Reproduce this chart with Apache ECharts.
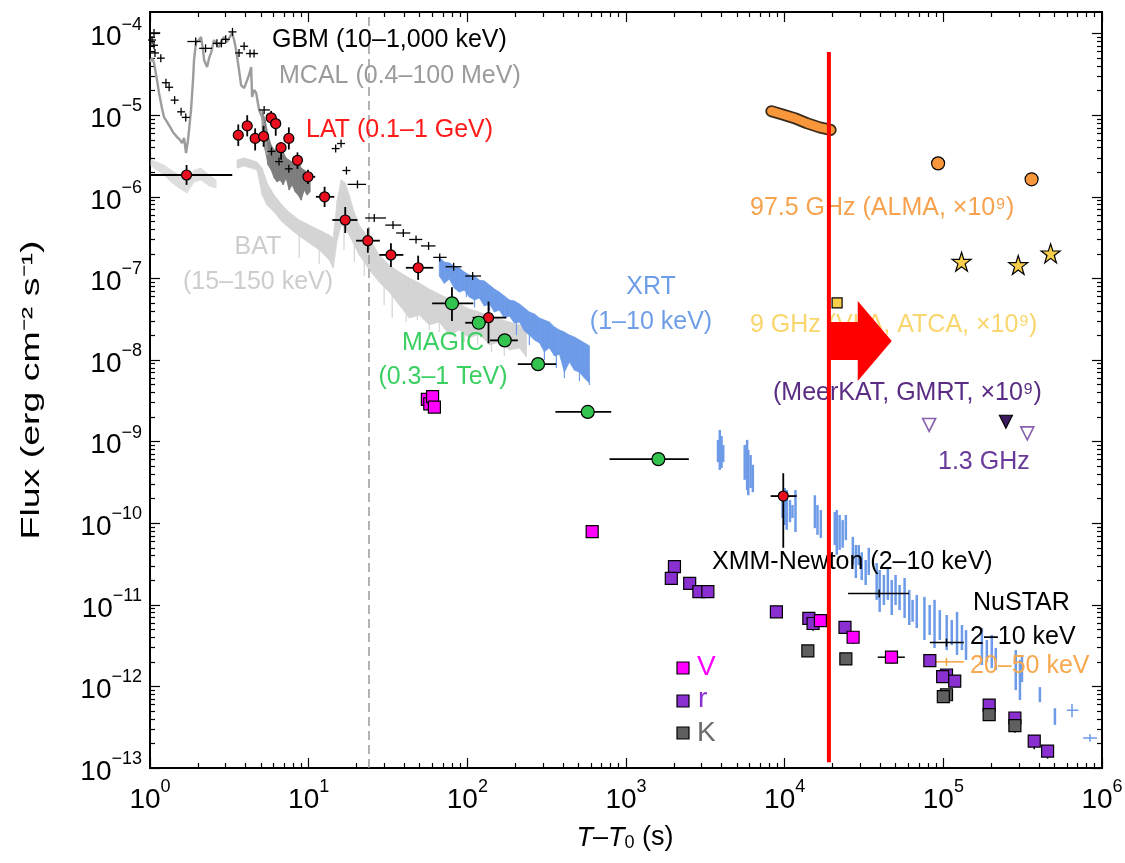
<!DOCTYPE html>
<html>
<head>
<meta charset="utf-8">
<script src="https://cdn.jsdelivr.net/npm/echarts@6/dist/echarts.min.js"></script>
<style>
html, body { margin: 0; padding: 0; background: #fff; }
#chart { width: 1125px; height: 863px; }
</style>
</head>
<body>
<div id="chart"></div>
<script>
var FONT = '"Liberation Sans", Arial, Helvetica, sans-serif';

// axis ranges
var T_MIN = 1, T_MAX = 1e6;
var F_MIN = 1e-13, F_MAX = 1.84e-4;

// GBM (10-1,000 keV): [t, tLo, tHi, flux]
var gbm = [
  [1.06, 1.0, 1.16, 1.02e-4], [1.03, 1.03, 1.03, 8.35e-5], [1.06, 1.06, 1.06, 7.2e-5],
  [1.075, 1.075, 1.075, 5.8e-5], [1.17, 1.17, 1.17, 5.0e-5], [1.26, 1.22, 1.30, 2.5e-5],
  [1.32, 1.30, 1.35, 2.2e-5], [1.43, 1.38, 1.48, 1.53e-5], [1.57, 1.52, 1.62, 1.1e-5],
  [1.68, 1.68, 1.68, 9.4e-6], [1.94, 1.72, 2.09, 8.0e-5], [2.24, 2.04, 2.46, 6.6e-5],
  [2.64, 2.64, 2.64, 7.6e-5], [2.82, 2.82, 2.82, 7.6e-5], [3.0, 2.92, 3.08, 8.5e-5],
  [3.31, 3.2, 3.42, 1.05e-4], [3.64, 3.55, 3.73, 5.8e-5], [3.92, 3.92, 3.92, 7.0e-5],
  [4.27, 4.27, 4.27, 5.7e-5], [4.53, 4.53, 4.53, 5.7e-5], [5.24, 4.87, 5.7, 1.16e-5],
  [5.83, 5.6, 6.1, 3.6e-6], [6.5, 6.5, 6.5, 2.7e-6], [7.5, 7.1, 7.9, 2.2e-6],
  [14.8, 14.0, 15.4, 3.9e-6], [16.0, 15.4, 16.6, 4.5e-6], [17.3, 17.3, 17.3, 2.1e-6],
  [20.3, 17.6, 23.0, 1.42e-6], [25.9, 22.7, 30.7, 5.5e-7], [34, 30.4, 38.4, 4.5e-7],
  [39.5, 35.6, 43.7, 3.6e-7], [47.5, 43, 52, 3.0e-7], [57, 51, 63, 2.5e-7],
  [67, 61, 74, 1.81e-7], [82, 73, 92, 1.39e-7], [108, 97, 122, 1.07e-7]
];

// LAT (0.1-1 GeV): [t, tLo, tHi, flux, fLo, fHi]
var lat = [
  [1.7, 1.0, 3.3, 1.85e-6, 1.4e-6, 2.45e-6], [3.6, 3.6, 3.6, 5.7e-6, 4.2e-6, 7.7e-6],
  [4.1, 4.1, 4.1, 7.4e-6, 5.5e-6, 1.0e-5], [4.6, 4.6, 4.6, 5.2e-6, 3.7e-6, 6.9e-6],
  [5.2, 5.2, 5.2, 5.5e-6, 4.1e-6, 7.4e-6], [5.8, 5.8, 5.8, 9.3e-6, 7.6e-6, 1.13e-5],
  [6.2, 6.2, 6.2, 7.9e-6, 5.6e-6, 9.6e-6], [6.7, 6.7, 6.7, 4.0e-6, 2.85e-6, 4.7e-6],
  [7.5, 7.5, 7.5, 5.2e-6, 3.8e-6, 7.1e-6], [8.5, 8.5, 8.5, 2.8e-6, 2.2e-6, 3.5e-6],
  [9.9, 9.4, 11, 1.76e-6, 1.44e-6, 2.15e-6], [12.6, 11.1, 14.5, 1.0e-6, 7.5e-7, 1.33e-6],
  [17, 14.1, 20.3, 5.2e-7, 3.6e-7, 7.5e-7], [23.6, 19.9, 28.1, 2.9e-7, 2.06e-7, 4.1e-7],
  [33, 27.9, 39.5, 1.94e-7, 1.38e-7, 2.7e-7], [49, 41, 61, 1.35e-7, 9.6e-8, 1.9e-7],
  [136, 108, 176, 3.3e-8, 1.6e-8, 5.2e-8], [9800, 8160, 11900, 2.15e-10, 5.0e-11, 4.1e-10]
];

// MAGIC (0.3-1 TeV): [t, tLo, tHi, flux, fLo, fHi]
var magic = [
  [80, 60, 109, 4.95e-8, 3.0e-8, 7.8e-8], [118, 97, 131, 2.86e-8, 2.5e-8, 3.3e-8],
  [172, 139, 208, 1.74e-8, 1.55e-8, 1.95e-8], [279, 208, 363, 8.9e-9, 8.0e-9, 9.9e-9],
  [574, 359, 807, 2.31e-9, 2.1e-9, 2.55e-9], [1600, 787, 2490, 6.1e-10, 5.3e-10, 7.0e-10]
];

// BAT (15-150 keV) light curve envelope: [t, fLo, fHi]
var batEarly = [
  [1.015, 2.38e-6, 2.82e-6], [1.107, 2.13e-6, 2.67e-6], [1.225, 1.85e-6, 2.45e-6],
  [1.357, 1.52e-6, 2.13e-6], [1.524, 1.28e-6, 1.85e-6], [1.712, 1.11e-6, 1.61e-6],
  [1.895, 1.52e-6, 2.13e-6], [2.098, 1.61e-6, 2.25e-6], [2.357, 1.36e-6, 1.85e-6],
  [2.609, 1.28e-6, 1.61e-6]
];
var batMain = [
  [3.54, 2.25e-6, 2.82e-6], [3.92, 2.38e-6, 2.99e-6], [4.34, 2.25e-6, 2.82e-6],
  [4.73, 2.13e-6, 2.67e-6], [5.09, 1.05e-6, 2.25e-6], [5.47, 7.9e-7, 1.48e-6],
  [6.06, 6.5e-7, 1.05e-6], [6.81, 4.91e-7, 7.9e-7], [7.53, 4.15e-7, 6.5e-7],
  [8.71, 3.31e-7, 5.2e-7], [10.07, 2.72e-7, 4.51e-7], [11.65, 2.23e-7, 3.92e-7],
  [13.47, 1.68e-7, 3.4e-7], [14.28, 1.34e-7, 3.13e-7], [15.13, 2.96e-7, 9.1e-7],
  [16.03, 4.51e-7, 1.61e-6], [16.99, 4.15e-7, 1.48e-6], [18.01, 3.4e-7, 1.05e-6],
  [19.37, 2.57e-7, 6.5e-7], [20.83, 1.94e-7, 4.51e-7], [22.4, 1.59e-7, 3.7e-7],
  [24.08, 1.27e-7, 3.13e-7], [27.86, 9.0e-8, 1.94e-7], [32.2, 6.8e-8, 1.46e-7],
  [37.24, 4.72e-8, 1.2e-7], [43.07, 3.27e-8, 1.01e-7], [49.8, 3.56e-8, 8.8e-8],
  [57.6, 2.69e-8, 7.4e-8], [66.6, 2.92e-8, 6.4e-8], [77.0, 2.02e-8, 5.6e-8],
  [89.0, 2.33e-8, 4.86e-8], [103, 1.86e-8, 4.22e-8], [119, 2.08e-8, 3.87e-8],
  [138, 1.53e-8, 3.46e-8], [159, 1.66e-8, 3.18e-8], [184, 1.33e-8, 2.92e-8],
  [213, 1.4e-8, 2.69e-8], [236, 1.09e-8, 2.33e-8]
];
// BAT downward noise spikes: [t, fLo, fHi]
var batSpikes = [
  [8.71, 1.78e-7, 3.92e-7], [11.65, 1.5e-7, 2.96e-7], [16.7, 2.23e-7, 4.51e-7],
  [19.4, 1.59e-7, 2.96e-7], [22.4, 1.07e-7, 1.94e-7], [29.9, 4.72e-8, 8.3e-8],
  [33.6, 3.27e-8, 7.2e-8], [41.2, 2.92e-8, 5.44e-8], [48.4, 3.09e-8, 4.1e-8],
  [57.6, 2.33e-8, 3.56e-8], [66.6, 2.2e-8, 3.56e-8], [80.4, 2.02e-8, 3.09e-8],
  [95.7, 1.66e-8, 2.69e-8], [116, 1.53e-8, 2.33e-8], [142, 1.26e-8, 2.02e-8],
  [171, 1.12e-8, 1.76e-8]
];

// MCAL (0.4-100 MeV): [t, flux]
var mcalCurve = [
  [1.0, 4.5e-5], [1.03, 5.0e-5], [1.06, 4.4e-5], [1.107, 2.7e-5], [1.14, 1.87e-5],
  [1.19, 1.22e-5], [1.225, 9.5e-6], [1.28, 8.3e-6], [1.337, 7.2e-6], [1.397, 6.2e-6],
  [1.48, 5.4e-6], [1.546, 5.0e-6], [1.592, 4.56e-6], [1.639, 5.26e-6], [1.687, 3.44e-6],
  [1.737, 5.0e-6], [1.814, 1.16e-5], [1.867, 2.7e-5], [1.895, 4.75e-5], [1.951, 7.9e-5],
  [2.038, 8.35e-5], [2.098, 9.1e-5], [2.16, 6.3e-5], [2.192, 4.75e-5], [2.289, 3.9e-5],
  [2.357, 5.0e-5], [2.426, 5.8e-5], [2.533, 8.35e-5], [2.647, 7.2e-5], [2.725, 6.85e-5],
  [2.847, 8.35e-5], [2.931, 9.1e-5], [3.06, 7.9e-5], [3.15, 8.35e-5], [3.29, 1.02e-4],
  [3.39, 8.35e-5], [3.49, 6.3e-5], [3.64, 3.58e-5], [3.75, 2.34e-5], [3.92, 2.15e-5],
  [4.03, 2.04e-5], [4.21, 3.11e-5], [4.34, 3.9e-5], [4.40, 1.67e-5], [4.53, 2.04e-5],
  [4.67, 1.87e-5], [4.87, 1.16e-5], [5.09, 9.5e-6], [5.32, 5.7e-6], [5.47, 3.25e-6]
];
// MCAL later, darker envelope: [t, fLo, fHi]
var mcalBand = [
  [5.09, 6.6e-6, 1.16e-5], [5.32, 3.75e-6, 8.7e-6], [5.55, 2.45e-6, 5.7e-6],
  [5.80, 2.13e-6, 4.32e-6], [6.06, 1.70e-6, 3.75e-6], [6.33, 1.52e-6, 3.96e-6],
  [6.61, 1.61e-6, 3.25e-6], [6.91, 1.40e-6, 3.54e-6], [7.21, 1.70e-6, 2.99e-6],
  [7.53, 1.21e-6, 2.82e-6], [7.87, 1.40e-6, 2.67e-6], [8.22, 1.15e-6, 2.45e-6],
  [8.59, 1.05e-6, 2.82e-6], [8.97, 9.1e-7, 2.25e-6], [9.37, 1.21e-6, 2.13e-6],
  [9.78, 1.05e-6, 2.01e-6], [10.22, 1.15e-6, 1.85e-6]
];

// XRT (1-10 keV): early dense envelope [t, fLo, fHi]
var xrtBand = [
  [66.6, 1.07e-7, 1.83e-7], [71.6, 8.7e-8, 1.59e-7], [77.0, 9.8e-8, 1.55e-7],
  [82.8, 7.6e-8, 1.42e-7], [89.0, 6.8e-8, 1.34e-7], [95.7, 7.2e-8, 1.20e-7],
  [103, 5.9e-8, 1.10e-7], [111, 5.44e-8, 1.07e-7], [119, 5.76e-8, 9.55e-8],
  [128, 4.6e-8, 9.3e-8], [138, 4.86e-8, 8.3e-8], [148, 3.88e-8, 7.42e-8],
  [159, 4.1e-8, 6.8e-8], [171, 3.27e-8, 6.1e-8], [184, 3.46e-8, 5.44e-8],
  [198, 2.85e-8, 5.29e-8], [213, 2.92e-8, 4.86e-8], [229, 2.27e-8, 4.34e-8],
  [246, 2.02e-8, 3.88e-8], [265, 1.76e-8, 3.66e-8], [285, 1.62e-8, 3.27e-8],
  [306, 1.26e-8, 3.09e-8], [329, 1.41e-8, 2.92e-8], [354, 1.12e-8, 2.54e-8],
  [381, 1.18e-8, 2.33e-8], [409, 7.1e-9, 2.2e-8], [440, 9.45e-9, 2.02e-8],
  [473, 7.5e-9, 1.91e-8], [509, 7.1e-9, 1.76e-8], [547, 6.0e-9, 1.62e-8],
  [588, 5.24e-9, 1.49e-8]
];
// XRT early noise spikes: [t, fLo, fHi]
var xrtSpikes = [
  [98.6, 5.9e-8, 8.0e-8], [111, 4.4e-8, 6.5e-8], [138, 4.0e-8, 5.5e-8],
  [204, 2.02e-8, 3.2e-8], [246, 1.53e-8, 2.3e-8], [306, 1.0e-8, 1.5e-8],
  [364, 7.98e-9, 1.3e-8], [409, 6.0e-9, 9.0e-9], [509, 5.5e-9, 8.0e-9],
  [588, 4.94e-9, 6.5e-9]
];
// XRT later orbits: [t, fLo, fHi]
var xrtLate = [
  [3.8e3, 5.6e-10, 1.05e-9], [3.9e3, 4.5e-10, 1.39e-9], [4.0e3, 4.75e-10, 1.17e-9], [4.1e3, 5.6e-10, 9.1e-10],
  [5.6e3, 3.4e-10, 9.1e-10], [5.8e3, 2.55e-10, 1.05e-9], [5.9e3, 2.2e-10, 7.9e-10], [6.1e3, 2.7e-10, 6.85e-10], [6.3e3, 2.4e-10, 5.2e-10],
  [9.7e3, 1.16e-10, 2.2e-10], [1.0e4, 9.5e-11, 2.7e-10], [1.03e4, 8.3e-11, 2.55e-10], [1.08e4, 1.03e-10, 1.92e-10], [1.12e4, 1.16e-10, 1.67e-10], [1.17e4, 7.8e-11, 2.55e-10],
  [1.55e4, 8.7e-11, 2.2e-10], [1.61e4, 7.2e-11, 1.67e-10], [1.69e4, 6.6e-11, 1.45e-10],
  [2.07e4, 5.4e-11, 1.37e-10], [2.13e4, 4.1e-11, 1.45e-10], [2.22e4, 4.7e-11, 1.26e-10], [2.32e4, 5.0e-11, 1.09e-10], [2.43e4, 6.2e-11, 1.26e-10],
  [2.69e4, 3.07e-11, 6.8e-11], [2.81e4, 2.13e-11, 5.4e-11], [2.93e4, 3.07e-11, 5.4e-11], [3.06e4, 2.01e-11, 4.4e-11], [3.24e4, 1.75e-11, 3.54e-11], [3.39e4, 2.32e-11, 5.0e-11],
  [3.8e4, 1.15e-11, 3.25e-11], [3.97e4, 8.2e-12, 2.67e-11], [4.22e4, 9.95e-12, 2.32e-11], [4.47e4, 1.15e-11, 2.82e-11],
  [4.73e4, 7.5e-12, 2.01e-11], [5.0e4, 9.95e-12, 2.32e-11], [5.3e4, 8.6e-12, 1.75e-11], [5.7e4, 6.9e-12, 2.13e-11],
  [6.1e4, 5.65e-12, 1.52e-11], [6.4e4, 6.2e-12, 1.15e-11], [6.8e4, 5.2e-12, 1.32e-11],
  [7.6e4, 3.7e-12, 1.25e-11], [8.2e4, 4.27e-12, 9.95e-12], [8.8e4, 2.96e-12, 1.15e-11], [9.5e4, 3.7e-12, 8.6e-12],
  [1.05e5, 2.79e-12, 7.5e-12], [1.13e5, 3.2e-12, 6.5e-12], [1.22e5, 2.43e-12, 8.2e-12], [1.31e5, 2.79e-12, 5.65e-12], [1.39e5, 2.11e-12, 4.9e-12],
  [1.75e5, 1.83e-12, 5.2e-12], [1.88e5, 1.99e-12, 3.7e-12], [2.02e5, 1.68e-12, 4.27e-12], [2.14e5, 1.59e-12, 2.96e-12],
  [2.86e5, 9.0e-13, 2.79e-12], [3.04e5, 6.8e-13, 2.11e-12], [3.13e5, 1.13e-12, 2.43e-12],
  [4.06e5, 6.4e-13, 9.8e-13], [5.05e5, 3.37e-13, 5.4e-13]
];
// XRT last binned points: [t, tLo, tHi, flux, fLo, fHi]
var xrtLateCross = [
  [6.47e5, 6.0e5, 7.1e5, 5.1e-13, 4.2e-13, 6.1e-13],
  [8.4e5, 7.6e5, 9.3e5, 2.33e-13, 2.1e-13, 2.6e-13]
];

// XMM-Newton and NuSTAR: [t, tLo, tHi, flux]
var xmm = [[3.94e4, 2.51e4, 6.08e4, 1.38e-11]];
var nustarSoft = [[1.047e5, 8.22e4, 1.346e5, 3.44e-12]];
var nustarHard = [[1.047e5, 8.97e4, 1.346e5, 2.0e-12]];

// optical / NIR: [t, flux]
var optV = [[56, 3.3e-9], [58, 2.9e-9], [60.4, 3.55e-9], [62, 2.65e-9], [612, 7.9e-11],
  [1.68e4, 6.4e-12], [2.7e4, 4.0e-12], [4.71e4, 2.28e-12]];
var optR = [[2020, 2.93e-11], [1930, 2.11e-11], [2520, 1.83e-11], [2880, 1.45e-11], [3280, 1.45e-11],
  [8870, 8.2e-12], [1.42e4, 6.8e-12], [1.51e4, 5.9e-12], [2.4e4, 5.3e-12], [8.22e4, 2.07e-12],
  [1.047e5, 1.38e-12], [9.9e4, 1.32e-12], [1.18e5, 1.16e-12], [1.945e5, 5.9e-13],
  [2.825e5, 4.1e-13], [3.74e5, 2.14e-13], [4.54e5, 1.61e-13]];
var optK = [[1.4e4, 2.72e-12], [2.43e4, 2.17e-12], [1.047e5, 7.9e-13], [1.0e5, 7.5e-13],
  [1.945e5, 4.5e-13], [2.825e5, 3.3e-13]];
// optical error bars: [t, tLo, tHi, flux, fLo, fHi]
var optErr = [
  [4.71e4, 3.86e4, 5.72e4, 2.28e-12, 1.9e-12, 2.7e-12], [1.51e4, 1.51e4, 1.51e4, 5.9e-12, 4.8e-12, 5.9e-12],
  [2880, 2880, 2880, 1.45e-11, 1.25e-11, 1.45e-11], [3280, 3280, 3280, 1.45e-11, 1.25e-11, 1.45e-11],
  [2.7e4, 2.7e4, 2.7e4, 4.0e-12, 3.3e-12, 4.0e-12], [1.945e5, 1.945e5, 1.945e5, 4.5e-13, 3.9e-13, 4.5e-13],
  [2.825e5, 2.825e5, 2.825e5, 3.3e-13, 2.7e-13, 3.3e-13], [3.74e5, 3.74e5, 3.74e5, 2.14e-13, 1.7e-13, 2.14e-13],
  [4.54e5, 4.54e5, 4.54e5, 1.61e-13, 1.3e-13, 1.61e-13]
];

// radio (scaled x1e9): [t, flux]
var almaTrack = [[8240, 1.12e-5], [9710, 1.02e-5], [11550, 9.2e-6], [13770, 8.0e-6], [16600, 7.1e-6], [19500, 6.6e-6]];
var almaPts = [[9.27e4, 2.57e-6], [3.6e5, 1.64e-6]];
var atcaSquare = [[2.14e4, 5.0e-8]];
var atcaStars = [[1.303e5, 1.6e-7], [2.965e5, 1.46e-7], [4.745e5, 2.03e-7]];
var meerOpen = [[8.14e4, 1.6e-9], [3.38e5, 1.26e-9]];
var gmrtFilled = [[2.48e5, 1.75e-9]];

// markers: trigger dash, red line, red arrow [tStart, tEnd, flux]
var dashT = 24;
var redLine = [[1.9e4, 1.18e-13], [1.9e4, 5.96e-5]];
var redArrow = [[1.9e4, 4.73e4, 1.71e-8]];

function decades(lo, hi) {
  var out = [];
  for (var k = lo; k <= hi; k++) out.push(Number('1e' + k));
  return out;
}
function minors(lo, hi) {
  var out = [];
  for (var k = lo; k <= hi; k++) {
    for (var m = 2; m <= 9; m++) out.push(Number(m + 'e' + k));
  }
  return out;
}
var xMajor = decades(0, 6), xMinor = minors(0, 5);
var yMajor = decades(-13, -4), yMinor = minors(-13, -4);

function powLabel(v) {
  var lg = Math.log10(v), n = Math.round(lg);
  if (Math.abs(lg - n) > 0.01) return '';
  return '{b|10}{sup|' + String(n).replace('-', '\u2212') + '}';
}
var labelRich = {
  b: { fontSize: 28, fontFamily: FONT, color: '#000', lineHeight: 36, verticalAlign: 'bottom' },
  sup: { fontSize: 18, fontFamily: FONT, color: '#000', verticalAlign: 'top' }
};

function logAxis(kind, pos, ticks, len, withLabels) {
  var ax = {
    type: 'log', logBase: 10, gridIndex: 0, position: pos,
    min: kind === 'x' ? T_MIN : F_MIN,
    max: kind === 'x' ? T_MAX : F_MAX,
    axisLine: { show: false },
    splitLine: { show: false },
    axisTick: { show: true, inside: true, length: len, customValues: ticks,
      lineStyle: { color: '#000', width: 1.2 } },
    axisLabel: { show: false }
  };
  if (withLabels) {
    ax.axisLabel = { show: true, customValues: ticks, formatter: powLabel, rich: labelRich,
      margin: kind === 'x' ? 10 : 8 };
  }
  return ax;
}

// filled envelope between consecutive rows
function bandRender(rows, color) {
  return function (params, api) {
    var i = params.dataIndex;
    if (i >= rows.length - 1) return;
    var a = rows[i], b = rows[i + 1];
    var pts = [api.coord([a[0], a[2]]), api.coord([b[0], b[2]]),
               api.coord([b[0], b[1]]), api.coord([a[0], a[1]])];
    return { type: 'polygon', shape: { points: pts },
      style: { fill: color, stroke: color, lineWidth: 0.8 } };
  };
}
function bandSeries(rows, color) {
  return { type: 'custom', data: rows, renderItem: bandRender(rows, color),
    encode: { x: 0, y: [1, 2] }, silent: true, z: 1 };
}

// vertical bars [t, lo, hi]
function barRender(color, w) {
  return function (params, api) {
    var u = api.coord([api.value(0), api.value(2)]);
    var d = api.coord([api.value(0), api.value(1)]);
    return { type: 'line', shape: { x1: u[0], y1: u[1], x2: d[0], y2: d[1] },
      style: { stroke: color, lineWidth: w } };
  };
}
function barSeries(rows, color, w, z) {
  return { type: 'custom', data: rows, renderItem: barRender(color, w),
    encode: { x: 0, y: [1, 2] }, silent: true, z: z };
}

// error bars [t, tLo, tHi, f, fLo, fHi]
function errRender(color, w) {
  return function (params, api) {
    var t = api.value(0), f = api.value(3);
    var l = api.coord([api.value(1), f]), r = api.coord([api.value(2), f]);
    var u = api.coord([t, api.value(5)]), d = api.coord([t, api.value(4)]);
    return { type: 'group', children: [
      { type: 'line', shape: { x1: l[0], y1: l[1], x2: r[0], y2: r[1] }, style: { stroke: color, lineWidth: w } },
      { type: 'line', shape: { x1: u[0], y1: u[1], x2: d[0], y2: d[1] }, style: { stroke: color, lineWidth: w } }
    ] };
  };
}
function errSeries(rows, color, w, z) {
  return { type: 'custom', data: rows, renderItem: errRender(color, w),
    encode: { x: [0, 1, 2], y: [3, 4, 5] }, silent: true, z: z || 3 };
}

// '+' markers with horizontal span [t, tLo, tHi, f]
function crossRender(color, w) {
  return function (params, api) {
    var t = api.value(0), f = api.value(3);
    var c = api.coord([t, f]);
    var l = api.coord([api.value(1), f]), r = api.coord([api.value(2), f]);
    var x1 = Math.min(l[0], c[0] - 4), x2 = Math.max(r[0], c[0] + 4);
    return { type: 'group', children: [
      { type: 'line', shape: { x1: x1, y1: c[1], x2: x2, y2: c[1] }, style: { stroke: color, lineWidth: w } },
      { type: 'line', shape: { x1: c[0], y1: c[1] - 4, x2: c[0], y2: c[1] + 4 }, style: { stroke: color, lineWidth: w } }
    ] };
  };
}
function crossSeries(rows, color, w) {
  return { type: 'custom', data: rows, renderItem: crossRender(color, w),
    encode: { x: [0, 1, 2], y: 3 }, silent: true, z: 3 };
}

function dots(rows, symbol, size, fill, extra) {
  var s = { type: 'scatter', data: rows, symbol: symbol, symbolSize: size,
    itemStyle: { color: fill, borderColor: '#000', borderWidth: 1.2, opacity: 1 },
    silent: true, z: 4 };
  if (extra) for (var k in extra) s[k] = extra[k];
  return s;
}

var STAR = 'path://M50,2 L61,36 L97,36 L68,57 L79,92 L50,71 L21,92 L32,57 L3,36 L39,36 Z';

var chart = echarts.init(document.getElementById('chart'));
chart.setOption({
  animation: false,
  backgroundColor: '#fff',
  textStyle: { fontFamily: FONT },
  grid: { left: 150, right: 23, top: 12, bottom: 95, containLabel: false, outerBoundsMode: 'none',
    show: true, borderColor: '#000', borderWidth: 2, backgroundColor: 'transparent' },
  xAxis: [
    logAxis('x', 'bottom', xMajor, 10, true),
    logAxis('x', 'bottom', xMinor, 5, false),
    logAxis('x', 'top', xMajor, 10, false),
    logAxis('x', 'top', xMinor, 5, false)
  ],
  yAxis: [
    logAxis('y', 'left', yMajor, 10, true),
    logAxis('y', 'left', yMinor, 5, false),
    logAxis('y', 'right', yMajor, 10, false),
    logAxis('y', 'right', yMinor, 5, false)
  ],
  series: [
    bandSeries(batEarly, '#dedede'),
    bandSeries(batMain, '#d4d4d4'),
    barSeries(batSpikes, '#d4d4d4', 1.2, 1),
    { type: 'line', data: mcalCurve, showSymbol: false, silent: true, z: 2,
      lineStyle: { color: '#9c9c9c', width: 2.4 } },
    bandSeries(mcalBand, '#7d7d7d'),
    bandSeries(xrtBand, '#6d9be8'),
    barSeries(xrtSpikes, '#6d9be8', 1.2, 1),
    barSeries(xrtLate, '#6d9be8', 2.5, 2),
    errSeries(xrtLateCross, '#6d9be8', 1.5, 2),
    { type: 'line', data: [[dashT, F_MIN], [dashT, F_MAX]], showSymbol: false, silent: true, z: 2,
      lineStyle: { color: '#8a8a8a', width: 1.3, type: [9, 5] } },
    crossSeries(gbm, '#000', 1.3),
    errSeries(lat, '#000', 1.8),
    dots(lat.map(function (r) { return [r[0], r[3]]; }), 'circle', 10, '#e8101e'),
    errSeries(magic, '#000', 1.8),
    dots(magic.map(function (r) { return [r[0], r[3]]; }), 'circle', 13, '#33c44f'),
    errSeries(optErr, '#000', 1.5),
    dots(optR, 'rect', 12, '#8a2fd0'),
    dots(optK, 'rect', 12, '#5f5f5f'),
    dots(optV, 'rect', 12, '#ff00ff'),
    { type: 'line', data: almaTrack, showSymbol: false, silent: true, z: 4,
      lineStyle: { color: '#3a2a1a', width: 12, cap: 'round', join: 'round' } },
    { type: 'line', data: almaTrack, showSymbol: false, silent: true, z: 4,
      lineStyle: { color: '#f7963a', width: 8.5, cap: 'round', join: 'round' } },
    dots(almaPts, 'circle', 13, '#f7963a'),
    dots(atcaSquare, 'rect', 10, '#f8cf4a'),
    dots(atcaStars, STAR, 19, '#f8cf4a'),
    dots(meerOpen, 'triangle', 13, '#ffffff', { symbolRotate: 180,
      itemStyle: { color: '#fff', borderColor: '#6a3a9a', borderWidth: 1.6 } }),
    dots(gmrtFilled, 'triangle', 13, '#3b1a5e', { symbolRotate: 180 }),
    crossSeries(xmm, '#000', 1.5),
    crossSeries(nustarSoft, '#000', 1.5),
    crossSeries(nustarHard, '#f7a040', 1.5),
    { type: 'line', data: redLine, showSymbol: false, silent: true, z: 10,
      lineStyle: { color: '#ff0000', width: 4 } },
    { type: 'custom', data: redArrow, silent: true, z: 10, encode: { x: [0, 1], y: 2 },
      renderItem: function (params, api) {
        var p0 = api.coord([api.value(0), api.value(2)]);
        var p1 = api.coord([api.value(1), api.value(2)]);
        var y = p0[1], xh = p1[0] - 34;
        return { type: 'polygon', style: { fill: '#ff0000' }, shape: { points: [
          [p0[0], y - 19], [xh, y - 19], [xh, y - 40], [p1[0], y],
          [xh, y + 40], [xh, y + 19], [p0[0], y + 19]] } };
      } }
  ],
  graphic: { elements: [
    { type: 'text', x: 272, y: 40, z: 5, style: { text: 'GBM (10\u20131,000 keV)', fill: '#000', font: '25px ' + FONT, verticalAlign: 'middle' } },
    { type: 'text', x: 279, y: 76, z: 5, style: { text: 'MCAL (0.4\u2013100 MeV)', fill: '#9b9b9b', font: '25px ' + FONT, verticalAlign: 'middle' } },
    { type: 'text', x: 306, y: 130, z: 5, style: { text: 'LAT (0.1\u20131 GeV)', fill: '#ff1a1a', font: '25px ' + FONT, verticalAlign: 'middle' } },
    { type: 'text', x: 258, y: 247, z: 5, style: { text: 'BAT', fill: '#cdcdcd', font: '25px ' + FONT, align: 'center', verticalAlign: 'middle' } },
    { type: 'text', x: 258, y: 282, z: 5, style: { text: '(15\u2013150 keV)', fill: '#cdcdcd', font: '25px ' + FONT, align: 'center', verticalAlign: 'middle' } },
    { type: 'text', x: 651, y: 287, z: 5, style: { text: 'XRT', fill: '#6f9ee8', font: '25px ' + FONT, align: 'center', verticalAlign: 'middle' } },
    { type: 'text', x: 651, y: 322, z: 5, style: { text: '(1\u201310 keV)', fill: '#6f9ee8', font: '25px ' + FONT, align: 'center', verticalAlign: 'middle' } },
    { type: 'text', x: 443, y: 343, z: 5, style: { text: 'MAGIC', fill: '#3ccf62', font: '25px ' + FONT, align: 'center', verticalAlign: 'middle' } },
    { type: 'text', x: 443, y: 377, z: 5, style: { text: '(0.3\u20131 TeV)', fill: '#3ccf62', font: '25px ' + FONT, align: 'center', verticalAlign: 'middle' } },
    { type: 'text', x: 750, y: 208, z: 5, style: { text: '97.5 GHz (ALMA, \u00d710\u2079)', fill: '#f7a24f', font: '25px ' + FONT, verticalAlign: 'middle' } },
    { type: 'text', x: 750, y: 325, z: 5, style: { text: '9 GHz (VLA, ATCA, \u00d710\u2079)', fill: '#f9d66e', font: '25px ' + FONT, verticalAlign: 'middle' } },
    { type: 'text', x: 773, y: 393, z: 5, style: { text: '(MeerKAT, GMRT, \u00d710\u2079)', fill: '#5b2c83', font: '25px ' + FONT, verticalAlign: 'middle' } },
    { type: 'text', x: 938, y: 462, z: 5, style: { text: '1.3 GHz', fill: '#6a3a9a', font: '25px ' + FONT, verticalAlign: 'middle' } },
    { type: 'text', x: 712, y: 562, z: 5, style: { text: 'XMM-Newton (2\u201310 keV)', fill: '#000', font: '25px ' + FONT, verticalAlign: 'middle' } },
    { type: 'text', x: 973, y: 603, z: 5, style: { text: 'NuSTAR', fill: '#000', font: '25px ' + FONT, verticalAlign: 'middle' } },
    { type: 'text', x: 970, y: 637, z: 5, style: { text: '2\u201310 keV', fill: '#000', font: '25px ' + FONT, verticalAlign: 'middle' } },
    { type: 'text', x: 970, y: 666, z: 5, style: { text: '20\u201350 keV', fill: '#f8a94f', font: '25px ' + FONT, verticalAlign: 'middle' } },
    { type: 'rect', shape: { x: 677, y: 662, width: 12, height: 12 }, z: 5, style: { fill: '#ff00ff', stroke: '#000', lineWidth: 1.2 } },
    { type: 'rect', shape: { x: 677, y: 695, width: 12, height: 12 }, z: 5, style: { fill: '#8a2fd0', stroke: '#000', lineWidth: 1.2 } },
    { type: 'rect', shape: { x: 677, y: 727, width: 12, height: 12 }, z: 5, style: { fill: '#5f5f5f', stroke: '#000', lineWidth: 1.2 } },
    { type: 'text', x: 697, y: 667, z: 5, style: { text: 'V', fill: '#ff00ff', font: '28px ' + FONT, verticalAlign: 'middle' } },
    { type: 'text', x: 698, y: 699, z: 5, style: { text: 'r', fill: '#8a2fd0', font: '28px ' + FONT, verticalAlign: 'middle' } },
    { type: 'text', x: 697, y: 733, z: 5, style: { text: 'K', fill: '#6a6a6a', font: '28px ' + FONT, verticalAlign: 'middle' } },
    { type: 'text', x: 32, y: 390, rotation: Math.PI / 2, scaleX: 1.5, z: 5,
      style: { text: 'Flux (erg cm\u207b\u00b2 s\u207b\u00b9)', fill: '#000', font: '25px ' + FONT, align: 'center', verticalAlign: 'middle' } },
    { type: 'text', x: 625, y: 838, z: 5,
      style: { text: '{i|T}\u2013{i|T}{s|0} (s)', fill: '#000', font: '27px ' + FONT, align: 'center', verticalAlign: 'middle',
        rich: { i: { fontStyle: 'italic', fontSize: 27, fontFamily: FONT },
                s: { fontSize: 18, fontFamily: FONT, verticalAlign: 'bottom', padding: [10, 0, 0, 0] } } } }
  ] }
});
</script>
</body>
</html>
